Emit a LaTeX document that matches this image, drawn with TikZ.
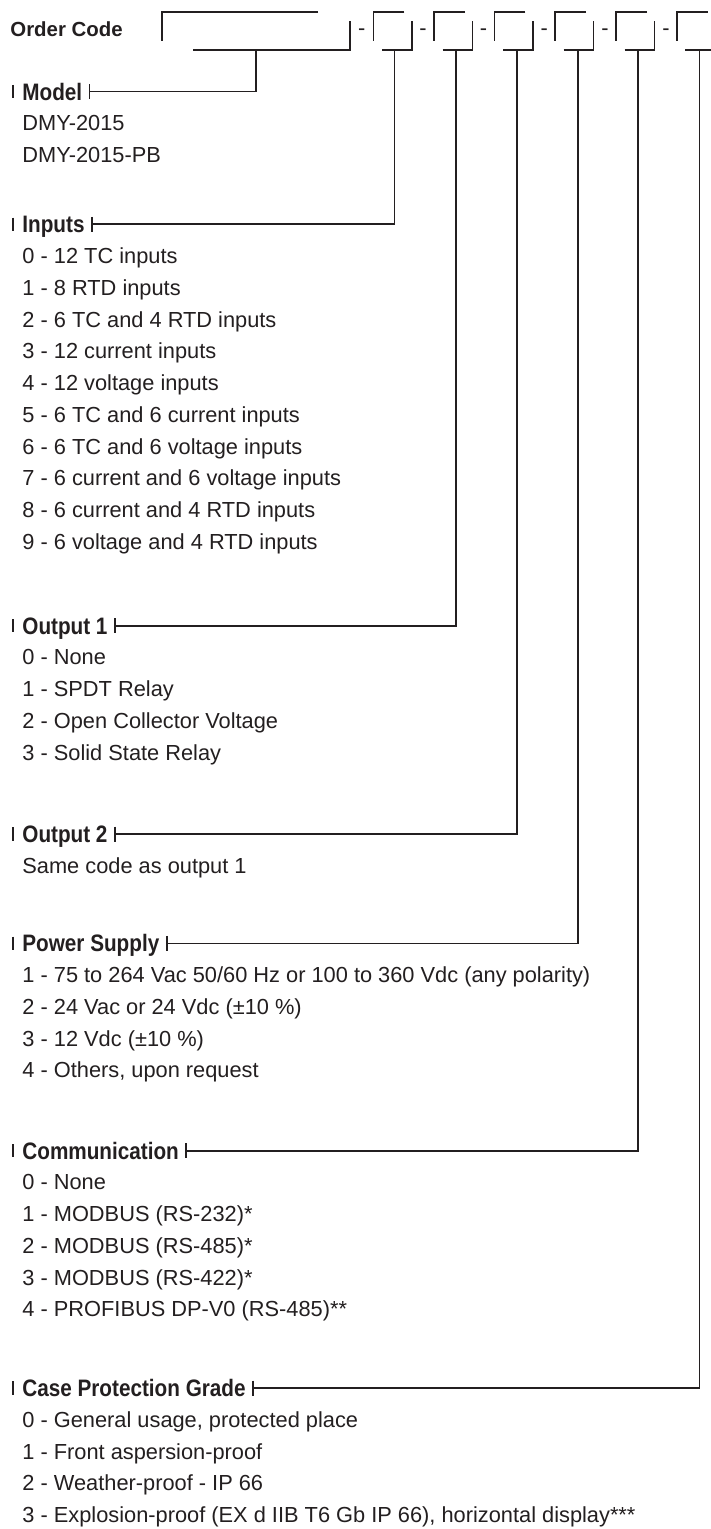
\documentclass[tikz,border=0pt]{standalone}
\usepackage{fontspec}
\setmainfont{Liberation Sans}
\newfontfamily\headfont{Liberation Sans Bold}[FakeStretch=0.87]
\usetikzlibrary{calc}
\definecolor{ink}{HTML}{231F20}
\tikzset{
  conn/.style={draw=ink, line width=0.8pt},
  tickl/.style={draw=ink, line width=1.1pt},
  head/.style={anchor=base west, inner sep=0pt, text=ink, font=\headfont\fontsize{11.9}{14}\selectfont},
  item/.style={anchor=base west, inner sep=0pt, text=ink, font=\fontsize{10.9}{13}\selectfont},
  dashtxt/.style={anchor=base, inner sep=0pt, text=ink, font=\fontsize{10.9}{13}\selectfont},
}
\newcommand\ocsec[4]{%
  \node[head] (h#1) at (22,#2+8.5) {#4};
  \coordinate (t#1) at ($(h#1.base east)+(7,-8.5)$);
  \draw[conn] (t#1) -| (#3);
  \draw[conn] ($(t#1)+(0,-7.5)$) -- ($(t#1)+(0,7.5)$);
  \draw[tickl] (13.3,#2-6.7) -- (13.3,#2+6.7);
}
\newcommand\ocitems[3]{%
  \foreach \t [count=\k] in {#3} {
    \node[item] (#1-\k) at (22,#2+31.75*\k+7.5) {\t};
  }
}
\begin{document}
\begin{tikzpicture}[x=0.5pt,y=-0.5pt]
\fill[white] (0,0) rectangle (711,1529);
\useasboundingbox (0,0) rectangle (711,1529);
\clip (0,0) rectangle (711,1529);

\node[anchor=base west, inner sep=0pt, text=ink, font=\bfseries\fontsize{10.2}{12}\selectfont] (oc) at (10,36.7) {Order Code};

% main model box
\draw[conn] (318,12) -- (162,12) -- (162,41);
\draw[conn] (193,50) -- (350,50) -- (350,21);
\coordinate (s0) at (256,50);
% option boxes
\foreach \i/\L/\s in {1/373.3/394.3, 2/434/455.7, 3/494.3/516.7, 4/555/577.7, 5/616/637.7, 6/676.7/699.3} {
  \draw[conn] (\L+31,12) -- (\L,12) -- (\L,41);
  \draw[conn] (\L+8.7,50) -- (\L+38.4,50) -- (\L+38.4,21);
  \coordinate (s\i) at (\s,50);
}
% separators
\foreach \i/\x in {1/361.7, 2/422.9, 3/483.5, 4/544.2, 5/605, 6/665.9} {
  \node[dashtxt] (d\i) at (\x,35.7) {-};
}

\ocsec{Model}{91.7}{s0}{Model}
\ocitems{Model}{91.7}{DMY-2015, DMY-2015-PB}

\ocsec{Inputs}{224.3}{s1}{Inputs}
\ocitems{Inputs}{224.3}{0 - 12 TC inputs, 1 - 8 RTD inputs, 2 - 6 TC and 4 RTD inputs, 3 - 12 current inputs, 4 - 12 voltage inputs, 5 - 6 TC and 6 current inputs, 6 - 6 TC and 6 voltage inputs, 7 - 6 current and 6 voltage inputs, 8 - 6 current and 4 RTD inputs, 9 - 6 voltage and 4 RTD inputs}

\ocsec{OutA}{625.7}{s2}{Output 1}
\ocitems{OutA}{625.7}{0 - None, 1 - SPDT Relay, 2 - Open Collector Voltage, 3 - Solid State Relay}

\ocsec{OutB}{834}{s3}{Output 2}
\ocitems{OutB}{834}{Same code as output 1}

\ocsec{Power}{943.3}{s4}{Power Supply}
\ocitems{Power}{943.3}{{1 - 75 to 264 Vac 50/60 Hz or 100 to 360 Vdc (any polarity)}, {2 - 24 Vac or 24 Vdc (±10 \%)}, {3 - 12 Vdc (±10 \%)}, {4 - Others, upon request}}

\ocsec{Comm}{1150.7}{s5}{Communication}
\ocitems{Comm}{1150.7}{0 - None, 1 - MODBUS (RS-232)*, 2 - MODBUS (RS-485)*, 3 - MODBUS (RS-422)*, 4 - PROFIBUS DP-V0 (RS-485)**}

\ocsec{Case}{1388}{s6}{Case Protection Grade}
\ocitems{Case}{1388}{{0 - General usage, protected place}, 1 - Front aspersion-proof, 2 - Weather-proof - IP 66, {3 - Explosion-proof (EX d IIB T6 Gb IP 66), horizontal display***}}
\end{tikzpicture}
\end{document}
